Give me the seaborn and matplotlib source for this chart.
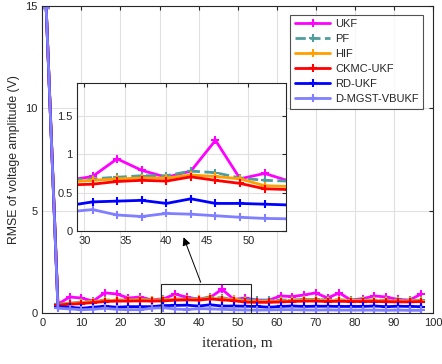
import numpy as np
import pandas as pd
import matplotlib
matplotlib.use("Agg")
import matplotlib.pyplot as plt
import seaborn as sns
from matplotlib.patches import Rectangle

iterations = list(range(1, 98, 3))
series_names = ["UKF", "PF", "HIF", "CKMC-UKF", "RD-UKF", "D-MGST-VBUKF"]
ukf = [14.9, 0.45, 0.8, 0.75, 0.6, 1.0, 0.95, 0.75, 0.8, 0.66, 0.71, 0.94, 0.79, 0.70, 0.78, 1.18, 0.68,
       0.75, 0.65, 0.65, 0.85, 0.82, 0.9, 1.0, 0.75, 1.0, 0.65, 0.72, 0.85, 0.8, 0.68, 0.65, 0.95]
pf = [14.9, 0.45, 0.5, 0.55, 0.6, 0.65, 0.65, 0.66, 0.68, 0.66, 0.68, 0.70, 0.72, 0.72, 0.78, 0.76, 0.69,
      0.66, 0.65, 0.63, 0.65, 0.66, 0.68, 0.68, 0.66, 0.66, 0.65, 0.65, 0.65, 0.64, 0.64, 0.63, 0.65]
hif = [14.9, 0.42, 0.48, 0.52, 0.58, 0.62, 0.63, 0.64, 0.66, 0.64, 0.66, 0.68, 0.69, 0.69, 0.73, 0.71, 0.68,
       0.59, 0.58, 0.58, 0.6, 0.62, 0.64, 0.64, 0.62, 0.63, 0.62, 0.62, 0.62, 0.61, 0.6, 0.6, 0.62]
ckmc = [14.9, 0.4, 0.45, 0.48, 0.53, 0.58, 0.6, 0.6, 0.61, 0.6, 0.61, 0.645, 0.66, 0.65, 0.705, 0.66, 0.62,
        0.55, 0.54, 0.54, 0.56, 0.58, 0.6, 0.6, 0.58, 0.59, 0.58, 0.58, 0.58, 0.57, 0.56, 0.56, 0.58]
rd = [14.9, 0.32, 0.3, 0.25, 0.3, 0.35, 0.3, 0.33, 0.33, 0.33, 0.38, 0.39, 0.40, 0.36, 0.42, 0.36, 0.36,
      0.35, 0.34, 0.3, 0.34, 0.36, 0.34, 0.35, 0.35, 0.34, 0.34, 0.34, 0.36, 0.33, 0.35, 0.34, 0.33]
dmgst = [14.9, 0.25, 0.22, 0.18, 0.2, 0.25, 0.2, 0.18, 0.18, 0.25, 0.28, 0.21, 0.19, 0.23, 0.22, 0.20, 0.18,
         0.165, 0.16, 0.17, 0.18, 0.18, 0.17, 0.16, 0.17, 0.16, 0.16, 0.16, 0.16, 0.15, 0.16, 0.15, 0.15]
main_xticks = list(range(0, 101, 10))
main_yticks = [0, 5, 10, 15]
inset_xticks = [30, 35, 40, 45, 50]
inset_yticks = [0, 0.5, 1, 1.5]
inset_yticklabels = ["0", "0.5", "1", "1.5"]

values = [ukf, pf, hif, ckmc, rd, dmgst]
colors = ["#FF00FF", "#4F9E9E", "#FFA000", "#FF0000", "#0000FF", "#7F7FFF"]
styles = ["-", "--", "-", "-", "-", "-"]

df = pd.concat([pd.DataFrame({"iteration": iterations, "rmse": v, "method": n})
                for n, v in zip(series_names, values)], ignore_index=True)

sns.set_style("white")
plt.rcParams["font.family"] = ["Liberation Sans", "DejaVu Sans"]

fig = plt.figure(figsize=(4.42, 3.64), dpi=100)
ax = fig.add_axes([0.0957, 0.139, 0.884, 0.845])
axin = fig.add_axes([0.175, 0.365, 0.472, 0.406])

edge = "#262626"
for a in (ax, axin):
    for name, col, ls in zip(series_names, colors, styles):
        sub = df[df["method"] == name]
        sns.lineplot(data=sub, x="iteration", y="rmse", ax=a, color=col,
                     marker="+", markersize=6, markeredgewidth=1.5, markeredgecolor=col,
                     linewidth=2, label=name if a is ax else None, legend=False)
        a.get_lines()[-1].set_linestyle(ls)
    a.grid(True, color="#E0E0E0", linewidth=0.8)
    a.set_axisbelow(True)
    for s in a.spines.values():
        s.set_color(edge)
        s.set_linewidth(0.8)
    a.tick_params(direction="in", top=True, right=True, colors=edge, labelcolor="#262626",
                  length=3, width=0.8, labelsize=8)
    a.set_xlabel("")
    a.set_ylabel("")

ax.set_xlim(0, 100)
ax.set_ylim(0, 15)
ax.set_xticks(main_xticks)
ax.set_yticks(main_yticks)
ax.set_ylabel("RMSE of voltage amplitude (V)", fontsize=8.8, labelpad=4)
ax.set_xlabel("iteration, m", fontsize=11, family=["Liberation Serif"], labelpad=6)

axin.set_xlim(29.15, 54.6)
axin.set_ylim(0, 1.92)
axin.set_xticks(inset_xticks)
axin.set_yticks(inset_yticks)
axin.set_yticklabels(inset_yticklabels)

ax.add_patch(Rectangle((30.35, 0), 22.95, 1.43, fill=False, edgecolor=edge, linewidth=0.8, zorder=5))
ax.annotate("", xy=(35.9, 3.84), xytext=(40.8, 1.39),
            arrowprops=dict(arrowstyle="-|>", color="black", lw=0.7, mutation_scale=12), zorder=6)

handles, labels = ax.get_legend_handles_labels()
leg = ax.legend(handles, labels, loc="upper right", bbox_to_anchor=(0.957, 0.959),
                bbox_transform=fig.transFigure, borderaxespad=0, fontsize=8,
                frameon=True, fancybox=False, edgecolor=edge, handlelength=3.2,
                labelspacing=0.45, borderpad=0.4, handletextpad=0.4)
leg.get_frame().set_linewidth(0.8)

fig.savefig("out.png", dpi=100)
